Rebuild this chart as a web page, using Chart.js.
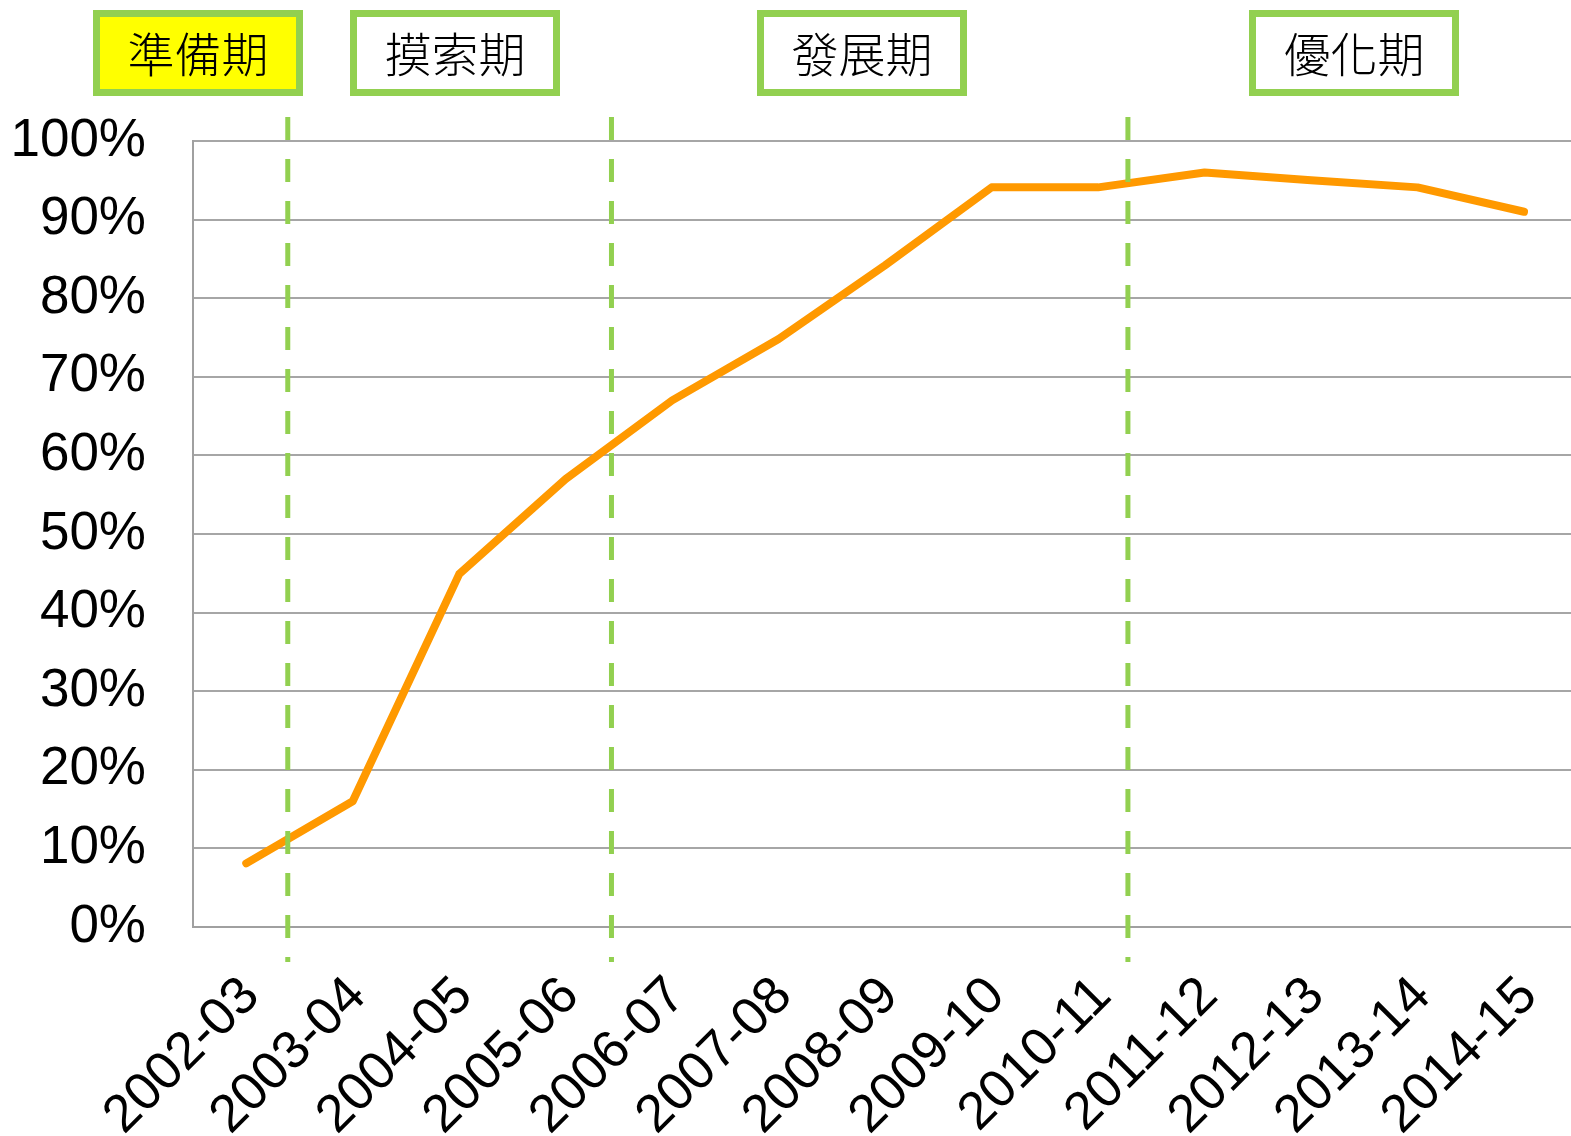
<!DOCTYPE html>
<html>
<head>
<meta charset="utf-8">
<script src="https://cdn.jsdelivr.net/npm/chart.js@4/dist/chart.umd.min.js"></script>
<style>
  html, body { margin: 0; padding: 0; background: #fff; overflow: hidden; }
  #wrap { width: 1607px; height: 1136px; }
</style>
</head>
<body>
<div id="wrap"><canvas id="myChart"></canvas></div>
<script>
// school years
var years = ['2002-03', '2003-04', '2004-05', '2005-06', '2006-07', '2007-08', '2008-09',
             '2009-10', '2010-11', '2011-12', '2012-13', '2013-14', '2014-15'];

// percentage per year
var rates = [8.1, 16, 44.9, 57, 67, 74.8, 84.2, 94.1, 94.1, 96, 95, 94.1, 91];

// y tick values
var yTicks = [0, 10, 20, 30, 40, 50, 60, 70, 80, 90, 100];

// phase names and where each boundary falls (between categories, as category index)
var phases = ['準備期', '摸索期', '發展期', '優化期'];
var phaseBounds = [0.39, 3.43, 8.28];

var green = '#92d050';

// phase label boxes + dashed boundaries
var phasePlugin = {
    id: 'phases',
    afterDraw: function(chart) {
        var ctx = chart.ctx;
        var x = chart.scales.x;
        var step = x.getPixelForValue(1) - x.getPixelForValue(0);

        ctx.save();
        ctx.strokeStyle = green;
        ctx.lineWidth = 5;
        ctx.setLineDash([23, 19]);
        phaseBounds.forEach(function(b) {
            var px = x.getPixelForValue(0) + b * step;
            ctx.beginPath();
            ctx.moveTo(px, 117);
            ctx.lineTo(px, 962);
            ctx.stroke();
        });
        ctx.setLineDash([]);

        // boxes at the top
        var boxes = [[93, true], [350, false], [757, false], [1249, false]];
        ctx.font = '300 47px "Noto Sans CJK TC"';
        ctx.textAlign = 'center';
        ctx.textBaseline = 'middle';
        boxes.forEach(function(b, i) {
            var bx = b[0], by = 10, bw = 210, bh = 86;
            if (b[1]) {
                ctx.fillStyle = '#ffff00';
                ctx.fillRect(bx, by, bw, bh);
            }
            ctx.lineWidth = 7;
            ctx.strokeStyle = green;
            ctx.strokeRect(bx + 3.5, by + 3.5, bw - 7, bh - 7);
            ctx.fillStyle = '#000';
            ctx.fillText(phases[i], bx + bw / 2, by + bh / 2 + 1);
        });
        ctx.restore();
    }
};

var ctx = document.getElementById('myChart').getContext('2d');

var myChart = new Chart(ctx, {
    type: 'line',
    data: {
        labels: years,
        datasets: [{
            data: rates,
            borderColor: '#ff9900',
            borderWidth: 8,
            pointRadius: 0,
            tension: 0,
            borderCapStyle: 'round',
            borderJoinStyle: 'round'
        }]
    },
    options: {
        responsive: true,
        maintainAspectRatio: false,
        animation: false,
        layout: { padding: { top: 141, left: 0, right: 0, bottom: 0 } },
        plugins: {
            legend: { display: false },
            tooltip: { enabled: false }
        },
        scales: {
            x: {
                offset: true,
                grid: { display: false, drawTicks: false },
                border: { color: '#a0a0a0', width: 2 },
                ticks: {
                    color: '#000',
                    font: { family: 'Liberation Sans', size: 53 },
                    maxRotation: 45,
                    minRotation: 45,
                    padding: 38,
                    labelOffset: 5
                },
                afterFit: function(scale) { scale.height = 209; }
            },
            y: {
                min: 0,
                max: 100,
                afterBuildTicks: function(scale) {
                    scale.ticks = yTicks.map(function(v) { return { value: v }; });
                },
                grid: { color: '#a6a6a6', lineWidth: 2, drawTicks: false },
                border: { color: '#a0a0a0', width: 2 },
                ticks: {
                    color: '#000',
                    font: { family: 'Liberation Sans', size: 53 },
                    padding: 47,
                    callback: function(v) { return v + '%'; }
                },
                afterFit: function(scale) { scale.width = 193; }
            }
        }
    },
    plugins: [phasePlugin]
});
</script>
</body>
</html>
